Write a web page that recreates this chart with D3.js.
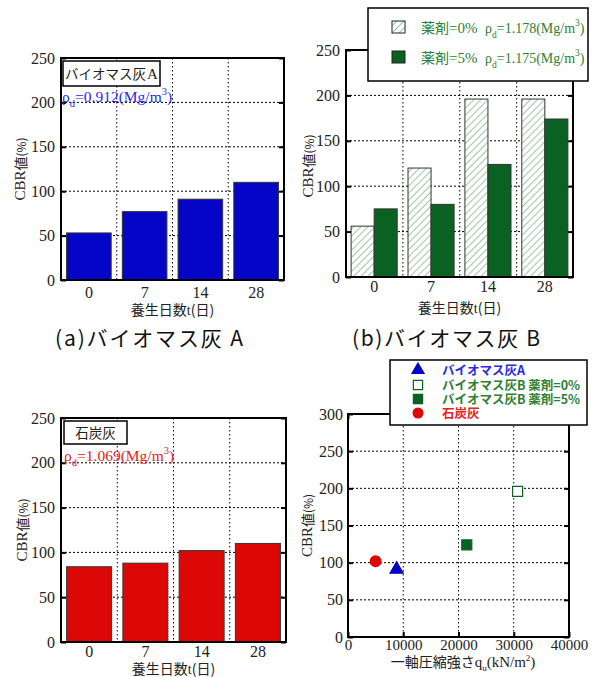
<!DOCTYPE html>
<html>
<head>
<meta charset="utf-8">
<script src="https://cdn.jsdelivr.net/npm/d3@7/dist/d3.min.js"></script>
<style>
  body { margin: 0; background: #fff; }
  svg { display: block; }
</style>
</head>
<body>
<svg id="fig" width="603" height="677"></svg>
<script>
// ---- data ----
const days = ["0", "7", "14", "28"];
const cbrAshA = [53, 77, 91, 110];
const cbrAshB0 = [56, 120, 196, 196];
const cbrAshB5 = [75, 80, 124, 174];
const cbrCoal = [84, 88, 102, 110];
const barTicks = [0, 50, 100, 150, 200, 250];

const scatterNames = ["バイオマス灰A", "バイオマス灰B 薬剤=0%", "バイオマス灰B 薬剤=5%", "石炭灰"];
const scatterQu = [8800, 30700, 21500, 5000];
const scatterCbr = [91, 196, 124, 102];
const quTicks = [0, 10000, 20000, 30000, 40000];
const cbrTicks = [0, 50, 100, 150, 200, 250, 300];

// ---- styles ----
const SERIF = "'Liberation Serif', 'Times New Roman', serif";
const GOTHIC = "'Noto Sans CJK JP', 'Noto Sans', sans-serif";
const BLUE = "#0505c8";
const BLUE_TXT = "#2a2ae6";
const GREEN = "#0a6222";
const GREEN_TXT = "#2e8034";
const RED = "#dc0808";
const RED_TXT = "#e82020";
const TICK_FS = 16;

const svg = d3.select("#fig");
svg.append("rect").attr("width", 603).attr("height", 677).attr("fill", "#fff");

// diagonal hatching for the 0% series
const defs = svg.append("defs");
const pat = defs.append("pattern")
  .attr("id", "hatch").attr("patternUnits", "userSpaceOnUse")
  .attr("width", 5).attr("height", 5)
  .attr("patternTransform", "rotate(45)");
pat.append("rect").attr("width", 5).attr("height", 5).attr("fill", "#fff");
pat.append("line").attr("x1", 0).attr("y1", 0).attr("x2", 0).attr("y2", 5)
  .attr("stroke", "#4f9a55").attr("stroke-width", 1.1);

// ---- helpers ----
function yAxes(g, y, ticks, left, right, pad) {
  // horizontal grid
  g.append("g").selectAll("line").data(ticks.slice(1, -1)).join("line")
    .attr("x1", left).attr("x2", right)
    .attr("y1", d => y(d)).attr("y2", d => y(d))
    .attr("stroke", "#000").attr("stroke-width", 1).attr("stroke-dasharray", "2,2");
  const ax = g.append("g").attr("transform", `translate(${left},0)`)
    .call(d3.axisLeft(y).tickValues(ticks).tickSizeInner(-5).tickSizeOuter(0).tickPadding(pad));
  ax.select(".domain").remove();
  ax.selectAll("line").attr("stroke-width", 2);
  ax.selectAll("text").attr("font-family", SERIF).attr("font-size", TICK_FS).attr("fill", "#222");
  const axr = g.append("g").attr("transform", `translate(${right},0)`)
    .call(d3.axisRight(y).tickValues(ticks).tickSizeInner(-5).tickSizeOuter(0).tickFormat(""));
  axr.select(".domain").remove();
  axr.selectAll("line").attr("stroke-width", 2);
}

function frame(g, left, top, right, bottom) {
  g.append("rect").attr("x", left).attr("y", top)
    .attr("width", right - left).attr("height", bottom - top)
    .attr("fill", "none").attr("stroke", "#000").attr("stroke-width", 2);
}

function yTitle(g, cx, cy) {
  const t = g.append("text")
    .attr("transform", `translate(${cx},${cy}) rotate(-90)`)
    .attr("text-anchor", "middle").attr("dominant-baseline", "central")
    .attr("fill", "#222");
  t.append("tspan").attr("font-family", SERIF).attr("font-size", 15).text("CBR");
  t.append("tspan").attr("font-family", GOTHIC).attr("font-size", 14).text("値");
  t.append("tspan").attr("font-family", GOTHIC).attr("font-size", 12).text("(%)");
}

function dayTitle(g, cx, base) {
  const t = g.append("text").attr("x", cx).attr("y", base)
    .attr("text-anchor", "middle").attr("fill", "#222");
  t.append("tspan").attr("font-family", GOTHIC).attr("font-size", 14).text("養生日数");
  t.append("tspan").attr("font-family", SERIF).attr("font-size", 14).text("t");
  t.append("tspan").attr("font-family", GOTHIC).attr("font-size", 14).text("(日)");
}

function density(g, x, y, value, color, fs) {
  const t = g.append("text").attr("x", x).attr("y", y)
    .attr("font-family", SERIF).attr("font-size", fs).attr("fill", color);
  t.append("tspan").text("ρ");
  t.append("tspan").attr("dy", 5).attr("font-size", fs * 0.68).text("d");
  t.append("tspan").attr("dy", -5).text("=" + value + "(Mg/m");
  t.append("tspan").attr("dy", -7).attr("font-size", fs * 0.68).text("3");
  t.append("tspan").attr("dy", 7).text(")");
  return t;
}

function labelBox(g, x0, y0, w, h, label, suffix) {
  g.append("rect").attr("x", x0).attr("y", y0).attr("width", w).attr("height", h)
    .attr("fill", "#fff").attr("stroke", "#000").attr("stroke-width", 1.5);
  const t = g.append("text").attr("x", x0 + w / 2).attr("y", y0 + h / 2 + 5)
    .attr("text-anchor", "middle").attr("fill", "#222");
  t.append("tspan").attr("font-family", GOTHIC).attr("font-size", 13.5).text(label);
  if (suffix) t.append("tspan").attr("font-family", SERIF).attr("font-size", 15).attr("dx", 1).text(suffix);
}

// single-series bar panel
function barPanel(opt) {
  const { left, top, right, bottom, values, color } = opt;
  const g = svg.append("g");
  const x = d3.scaleBand().domain(days).range([left, right]).paddingInner(0.2).paddingOuter(0.1);
  const y = d3.scaleLinear().domain([0, 250]).range([bottom, top]);
  // vertical dotted separators between groups
  const step = x.step();
  g.append("g").selectAll("line").data(d3.range(1, days.length)).join("line")
    .attr("x1", d => left + d * step).attr("x2", d => left + d * step)
    .attr("y1", top).attr("y2", bottom)
    .attr("stroke", "#000").attr("stroke-dasharray", "1.5,2.5");
  yAxes(g, y, barTicks, left, right, 6);
  g.append("g").selectAll("rect").data(values).join("rect")
    .attr("x", (d, i) => x(days[i])).attr("width", x.bandwidth())
    .attr("y", d => y(d)).attr("height", d => bottom - y(d))
    .attr("fill", color).attr("stroke", "#333").attr("stroke-width", 1);
  frame(g, left, top, right, bottom);
  const xa = g.append("g").attr("transform", `translate(0,${bottom})`)
    .call(d3.axisBottom(x).tickSize(0).tickPadding(opt.xPad));
  xa.select(".domain").remove();
  xa.selectAll("text").attr("font-family", SERIF).attr("font-size", TICK_FS).attr("fill", "#222");
  dayTitle(g, (left + right) / 2, opt.titleBase);
  yTitle(g, opt.yTitleX, (top + bottom) / 2);
  return { g, x, y };
}

// (a) biomass ash A
const pa = barPanel({ left: 61, top: 58, right: 284, bottom: 280, values: cbrAshA, color: BLUE,
  xPad: 7, titleBase: 315, yTitleX: 20 });
labelBox(pa.g, 63, 61, 97, 25, "バイオマス灰", "A");
density(pa.g, 62, 102, "0.912", BLUE_TXT, 15.5);

// (c) coal ash
const pc = barPanel({ left: 61, top: 418, right: 286, bottom: 642, values: cbrCoal, color: RED,
  xPad: 4, titleBase: 674, yTitleX: 22 });
labelBox(pc.g, 64, 421, 63, 23, "石炭灰");
density(pc.g, 64, 461, "1.069", RED_TXT, 15.5);

// (b) biomass ash B, two dosages
(function () {
  const left = 346, top = 50, right = 573, bottom = 277;
  const g = svg.append("g");
  const x = d3.scaleBand().domain(days).range([left, right]).paddingInner(0.19).paddingOuter(0.09);
  const xs = d3.scaleBand().domain(["0%", "5%"]).range([0, x.bandwidth()]);
  const y = d3.scaleLinear().domain([0, 250]).range([bottom, top]);
  const step = x.step();
  g.append("g").selectAll("line").data(d3.range(1, days.length)).join("line")
    .attr("x1", d => left + d * step).attr("x2", d => left + d * step)
    .attr("y1", top).attr("y2", bottom)
    .attr("stroke", "#000").attr("stroke-dasharray", "1.5,2.5");
  yAxes(g, y, barTicks, left, right, 6);
  g.append("g").selectAll("rect").data(cbrAshB0).join("rect")
    .attr("x", (d, i) => x(days[i]) + xs("0%")).attr("width", xs.bandwidth())
    .attr("y", d => y(d)).attr("height", d => bottom - y(d))
    .attr("fill", "url(#hatch)").attr("stroke", "#333").attr("stroke-width", 1);
  g.append("g").selectAll("rect").data(cbrAshB5).join("rect")
    .attr("x", (d, i) => x(days[i]) + xs("5%")).attr("width", xs.bandwidth())
    .attr("y", d => y(d)).attr("height", d => bottom - y(d))
    .attr("fill", GREEN).attr("stroke", "#333").attr("stroke-width", 1);
  frame(g, left, top, right, bottom);
  const xa = g.append("g").attr("transform", `translate(0,${bottom})`)
    .call(d3.axisBottom(x).tickSize(0).tickPadding(4));
  xa.select(".domain").remove();
  xa.selectAll("text").attr("font-family", SERIF).attr("font-size", TICK_FS).attr("fill", "#222");
  dayTitle(g, (left + right) / 2, 313);
  yTitle(g, 308, 166);

  // legend
  g.append("rect").attr("x", 368).attr("y", 8).attr("width", 220).attr("height", 73)
    .attr("fill", "#fff").attr("stroke", "#000").attr("stroke-width", 1.5);
  const rows = [
    { fill: "url(#hatch)", dose: "=0%", rho: "1.178", y: 33 },
    { fill: GREEN, dose: "=5%", rho: "1.175", y: 63 }
  ];
  rows.forEach(r => {
    g.append("rect").attr("x", 392).attr("y", r.y - 12).attr("width", 13).attr("height", 12)
      .attr("fill", r.fill).attr("stroke", "#222").attr("stroke-width", 1);
    const t = g.append("text").attr("x", 421).attr("y", r.y).attr("fill", GREEN_TXT);
    t.append("tspan").attr("font-family", GOTHIC).attr("font-size", 14).text("薬剤");
    t.append("tspan").attr("font-family", SERIF).attr("font-size", 15).text(r.dose);
    density(g, 485, r.y, r.rho, GREEN_TXT, 14);
  });
})();

// (d) CBR versus unconfined compressive strength
(function () {
  const left = 348, top = 414, right = 569, bottom = 637;
  const g = svg.append("g");
  const x = d3.scaleLinear().domain([0, 40000]).range([left, right]);
  const y = d3.scaleLinear().domain([0, 300]).range([bottom, top]);
  g.append("g").selectAll("line").data(quTicks.slice(1, -1)).join("line")
    .attr("x1", d => x(d)).attr("x2", d => x(d)).attr("y1", top).attr("y2", bottom)
    .attr("stroke", "#000").attr("stroke-dasharray", "1.5,2.5");
  yAxes(g, y, cbrTicks, left, right, 5);
  const xa = g.append("g").attr("transform", `translate(0,${bottom})`)
    .call(d3.axisBottom(x).tickValues(quTicks).tickSizeInner(-5).tickSizeOuter(0).tickPadding(2).tickFormat(d3.format("d")));
  xa.select(".domain").remove();
  xa.selectAll("line").attr("stroke-width", 2);
  xa.selectAll("text").attr("font-family", SERIF).attr("font-size", 15).attr("fill", "#222");
  const xt = g.append("g").attr("transform", `translate(0,${top})`)
    .call(d3.axisTop(x).tickValues(quTicks).tickSizeInner(-5).tickSizeOuter(0).tickFormat(""));
  xt.select(".domain").remove();
  xt.selectAll("line").attr("stroke-width", 2);
  frame(g, left, top, right, bottom);

  const sym = [
    { type: d3.symbolTriangle, size: 75, fill: BLUE, stroke: BLUE },
    { type: d3.symbolSquare, size: 100, fill: "#fff", stroke: GREEN },
    { type: d3.symbolSquare, size: 100, fill: GREEN, stroke: GREEN },
    { type: d3.symbolCircle, size: 90, fill: RED, stroke: RED }
  ];
  g.append("g").selectAll("path").data(scatterQu).join("path")
    .attr("transform", (d, i) => `translate(${x(d)},${y(scatterCbr[i])})`)
    .attr("d", (d, i) => d3.symbol(sym[i].type, sym[i].size)())
    .attr("fill", (d, i) => sym[i].fill).attr("stroke", (d, i) => sym[i].stroke)
    .attr("stroke-width", 1.2);

  // x title
  const t = g.append("text").attr("x", 463).attr("y", 667).attr("text-anchor", "middle").attr("fill", "#222");
  t.append("tspan").attr("font-family", GOTHIC).attr("font-size", 14).text("一軸圧縮強さ");
  t.append("tspan").attr("font-family", SERIF).attr("font-size", 15).text("q");
  t.append("tspan").attr("font-family", SERIF).attr("font-size", 9).attr("dy", 4).text("u");
  t.append("tspan").attr("font-family", SERIF).attr("font-size", 15).attr("dy", -4).text("(kN/m");
  t.append("tspan").attr("font-family", SERIF).attr("font-size", 9).attr("dy", -6).text("2");
  t.append("tspan").attr("font-family", SERIF).attr("font-size", 15).attr("dy", 6).text(")");
  yTitle(g, 307, (top + bottom) / 2);

  // legend
  g.append("rect").attr("x", 390).attr("y", 360).attr("width", 197).attr("height", 65)
    .attr("fill", "#fff").attr("stroke", "#000").attr("stroke-width", 1.5);
  const colors = [BLUE_TXT, GREEN_TXT, GREEN_TXT, RED_TXT];
  const rowY = [370, 385, 399, 413];
  scatterNames.forEach((name, i) => {
    g.append("path").attr("transform", `translate(418,${rowY[i]})`)
      .attr("d", d3.symbol(sym[i].type, sym[i].size * 0.85)())
      .attr("fill", sym[i].fill).attr("stroke", sym[i].stroke).attr("stroke-width", 1.2);
    g.append("text").attr("x", 442).attr("y", rowY[i] + 5)
      .attr("font-family", GOTHIC).attr("font-size", 12.5).attr("font-weight", 700)
      .attr("fill", colors[i]).text(name);
  });
})();

// panel captions
[["(a)バイオマス灰 A", 55], ["(b)バイオマス灰 B", 352]].forEach(([s, x0]) => {
  svg.append("text").attr("x", x0).attr("y", 346)
    .attr("font-family", GOTHIC).attr("font-size", 21).attr("fill", "#111")
    .attr("textLength", 188).attr("lengthAdjust", "spacing")
    .text(s);
});
</script>
</body>
</html>
